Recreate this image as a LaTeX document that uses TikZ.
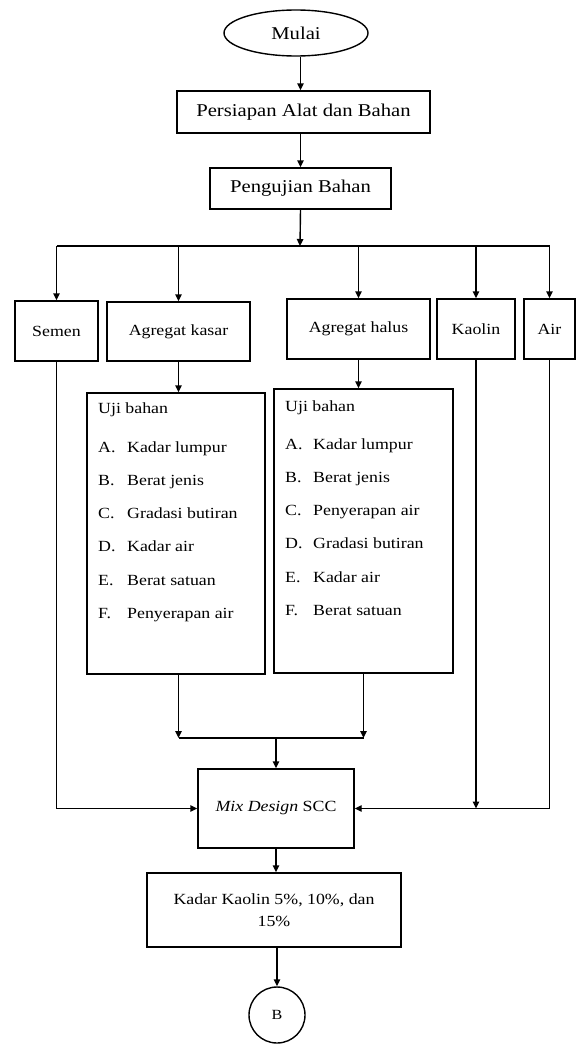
\documentclass[tikz,border=0pt]{standalone}
\usepackage{fontspec}
\setmainfont{Liberation Serif}[FakeStretch=1.15]
\usetikzlibrary{arrows.meta,shapes.geometric}
\begin{document}
\begin{tikzpicture}[x=1pt,y=-1pt,
  box/.style={draw, line width=1.4pt, rectangle, inner sep=0pt, align=center},
  arr/.style={-{Triangle[length=7pt,width=6.5pt]}, line width=1.4pt},
  ln/.style={line width=1.4pt},
  big/.style={font=\fontsize{18}{21}\selectfont},
  med/.style={font=\fontsize{15.5}{22}\selectfont},
  item/.style={anchor=base west, inner sep=0pt, font=\fontsize{15.5}{18}\selectfont}
]
\useasboundingbox (0,0) rectangle (576,1044);

% top chain
\node[draw, ellipse, line width=1.4pt, minimum width=144pt, minimum height=46pt, inner sep=0pt, big] (mulai) at (296,33) {Mulai};
\node[box, big, minimum width=253pt, minimum height=42pt] (persiapan) at (303.5,112) {Persiapan Alat dan Bahan};
\node[box, big, minimum width=181pt, minimum height=41pt] (uji) at (300.5,188.5) {Pengujian Bahan};

% material boxes
\node[box, med, minimum width=83pt, minimum height=60pt] (semen) at (56.5,331) {Semen};
\node[box, med, minimum width=143pt, minimum height=59pt] (kasar) at (178.5,331.5) {Agregat kasar};
\node[box, med, minimum width=143pt, minimum height=60pt] (halus) at (358.5,329) {Agregat halus};
\node[box, med, minimum width=78pt, minimum height=60pt] (kaolin) at (476,329) {Kaolin};
\node[box, med, minimum width=51pt, minimum height=60pt] (air) at (549.5,329) {Air};

% test boxes
\node[box, minimum width=178pt, minimum height=281pt] (u1) at (176,533.5) {};
\node[box, minimum width=179pt, minimum height=284pt] (u2) at (363.5,531) {};

\node[item] (u1h) at (98,413) {Uji bahan};
\foreach \l/\t/\y [count=\i] in {A./Kadar lumpur/452, B./Berat jenis/485, C./Gradasi butiran/518, D./Kadar air/551, E./Berat satuan/585, F./Penyerapan air/618}{
  \node[item] (u1l\i) at (98,\y) {\l};
  \node[item] (u1t\i) at (127,\y) {\t};
}
\node[item] (u2h) at (285,411) {Uji bahan};
\foreach \l/\t/\y [count=\i] in {A./Kadar lumpur/449, B./Berat jenis/482, C./Penyerapan air/515, D./Gradasi butiran/548, E./Kadar air/582, F./Berat satuan/615}{
  \node[item] (u2l\i) at (285,\y) {\l};
  \node[item] (u2t\i) at (313,\y) {\t};
}

% mix design and result
\node[box, med, minimum width=156pt, minimum height=79pt] (mix) at (276,808.5) {\textit{Mix Design} SCC};
\node[box, med, minimum width=254pt, minimum height=74pt] (kadar) at (274,910) {Kadar Kaolin 5\%, 10\%, dan\\15\%};
\node[draw, circle, line width=1.4pt, minimum size=56pt, inner sep=0pt, font=\fontsize{14}{16}\selectfont] (b) at (277,1015) {B};

% coordinates
\coordinate (split) at (300,246);
\coordinate (mj) at (276,738);

% connectors
\draw[arr] (mulai.south -| uji) -- (persiapan.north -| uji);
\draw[arr] (persiapan.south -| uji) -- (uji.north);
\draw[arr] (uji.south) -- (split);
\draw[ln] (semen.north |- split) -- (air.north |- split);
\draw[arr] (semen.north |- split) -- (semen.north);
\draw[arr] (kasar.north |- split) -- (kasar.north);
\draw[arr] (halus.north |- split) -- (halus.north);
\draw[arr] (kaolin.north |- split) -- (kaolin.north);
\draw[arr] (air.north |- split) -- (air.north);

\draw[arr] (kasar.south) -- (kasar.south |- u1.north);
\draw[arr] (halus.south) -- (halus.south |- u2.north);

\draw[arr] (u1.south -| kasar) -- (kasar |- mj);
\draw[arr] (u2.south) -- (u2.south |- mj);
\draw[ln] (kasar |- mj) -- (u2.south |- mj);
\draw[arr] (mj) -- (mix.north);

\draw[arr] (semen.south) |- (mix.west);
\draw[arr] (air.south) |- (mix.east);
\draw[arr] (kaolin.south) -- (kaolin.south |- mix.east);

\draw[arr] (mix.south) -- (mix.south |- kadar.north);
\draw[arr] (kadar.south -| b) -- (b.north);
\end{tikzpicture}
\end{document}
